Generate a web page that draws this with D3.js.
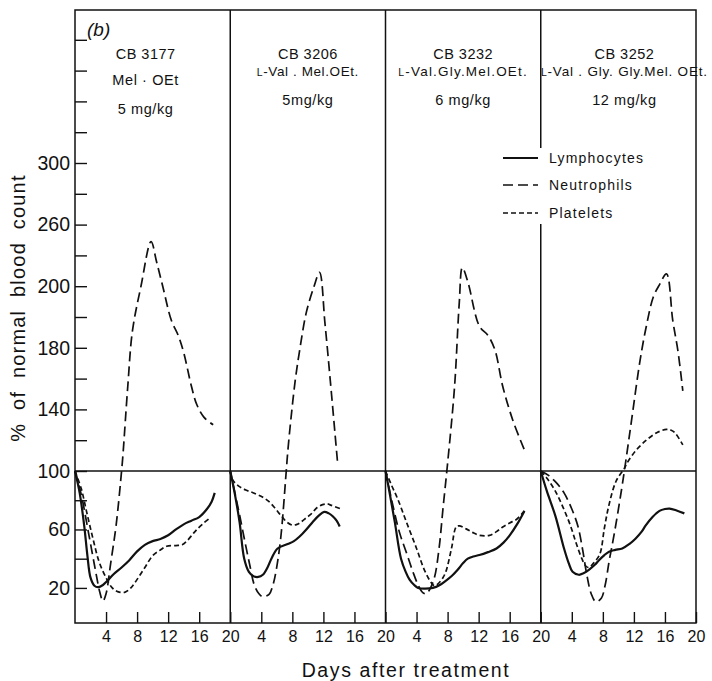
<!DOCTYPE html>
<html><head><meta charset="utf-8">
<script src="https://cdn.jsdelivr.net/npm/d3@7"></script>
<style>
body{margin:0;background:#fff}
svg{display:block}
text{font-family:"Liberation Sans",Arial,sans-serif;fill:#111}
</style>
</head><body><svg id="c" width="712" height="681"></svg>
<script>
// ---------------- data ----------------
const panelCodes = ["CB 3177", "CB 3206", "CB 3232", "CB 3252"];
const panelCompounds = ["Mel · OEt", "L-Val . Mel.OEt.", "L-Val.Gly.Mel.OEt.", "L-Val . Gly. Gly.Mel. OEt."];
const panelDoses = ["5 mg/kg", "5mg/kg", "6 mg/kg", "12 mg/kg"];
const seriesNames = ["Lymphocytes", "Neutrophils", "Platelets"];

const xTickValues = [4, 8, 12, 16, 20];
const yTickValues = d3.range(20, 400, 20);
const yLabelValues = [20, 60, 100, 140, 180, 220, 260, 300];
const yLabelTexts = ["20", "60", "100", "140", "180", "200", "260", "300"];

// [day, % of normal] for each panel
const lymphocytes = [
  [[0,100],[0.6,85],[1.2,62],[1.6,42],[2,27],[2.5,21.5],[3,20.5],[3.6,22],[4.2,25],[5,29.5],[6,34],[7,39],[8,45],[9,49.5],[10,52],[11,53.5],[12,56],[13,60],[14,63.5],[15,66],[16,68.5],[17,74],[17.6,79],[18,85]],
  [[0,100],[0.6,84],[1.2,65],[1.8,40],[2.4,31],[3,28],[3.6,27.5],[4.2,29],[4.8,34],[5.3,40],[6.1,47],[7.4,50],[8.2,52],[8.9,55],[9.8,60],[10.6,65],[11.4,69.5],[12.1,72],[12.7,71],[13.2,69],[13.7,66],[14.1,62]],
  [[0,100],[0.5,86],[1.2,65],[2,40],[2.6,31],[3.1,25.7],[3.7,22],[4.2,20],[5,19.5],[6.1,20],[7,22],[7.8,25],[8.6,28.5],[9.3,32.4],[10,37],[10.6,40],[11.3,41.5],[12.1,42.5],[13.2,44.5],[14.3,47],[15.2,51],[16,56],[17,64],[17.9,72.7]],
  [[0,100],[0.8,86],[1.9,69],[3,47],[3.6,37],[4.1,31],[4.9,29],[5.5,30],[6.2,32.4],[7,36],[7.5,39],[8.2,42.5],[8.8,44.8],[9.6,46],[10.5,47],[11.4,50],[12.2,53.7],[13,58.5],[13.5,62.6],[14.4,68.5],[15.3,72.7],[16,74],[16.6,74.3],[17.5,73],[18.5,71]]
];
const neutrophils = [
  [[0,100],[0.8,84],[1.8,56],[2.6,33],[3.2,17],[3.6,11],[4,16],[4.6,37],[5.3,63],[6,100],[6.2,112],[6.8,155],[7.4,191],[8.5,220],[9.8,249],[10.5,236],[11.3,220],[12.4,198],[13.3,188],[14,177],[15,155],[15.7,143],[16.6,135],[17.8,130]],
  [[0,100],[0.6,85],[1.2,70],[1.8,54],[2.5,36],[3.1,22],[3.7,16],[4.2,14],[5,15.6],[5.5,22],[5.9,31.5],[6.5,54],[7.2,99],[7.4,112],[7.8,133],[8.4,160],[8.9,177],[9.8,203],[10.8,220],[11.5,229],[12.2,196],[12.9,158],[13.5,124],[13.85,104]],
  [[0,100],[0.8,80],[1.8,58],[2.7,44],[3.5,31.5],[4.2,22],[4.8,16.8],[5.25,16],[5.7,19],[6.3,27],[6.9,47],[7.4,74],[8,105],[8.9,155],[9.5,209],[9.9,232],[10.6,223],[12.1,194],[13.2,188],[14.1,178.6],[15.1,155],[16.4,133],[17.9,113.6]],
  [[0,100],[1,97],[2,92],[3,85],[4,74],[4.8,62],[5.4,46],[5.9,30],[6.5,16],[7.1,10.5],[7.8,13],[8.3,22],[8.8,38],[9.5,58],[10.4,87],[11,108],[11.7,133],[12.8,172],[13.6,194],[14.5,213],[15.3,221],[16.2,228],[17,198],[17.7,177],[18.3,152]]
];
const platelets = [
  [[0,100],[0.8,88],[1.5,72],[2.3,54],[3.1,38],[4,27],[4.8,20],[5.5,17.5],[6.4,17],[7.2,20],[7.9,25],[9,34],[10,42],[11,46],[11.8,48.5],[13,49],[13.8,49.5],[14.4,52],[15.2,57],[15.7,60],[16.5,64],[17.4,68]],
  [[0,100],[0.3,94],[1,90],[2,87],[3,85],[4.2,82],[5,79],[5.7,75],[6.3,71],[6.7,68.5],[7.3,65],[8,63],[8.6,63.5],[9.1,65],[9.8,68],[10.4,70.5],[11.2,75],[11.9,77],[12.5,77.5],[12.8,77],[13.5,75.5],[14.3,74]],
  [[0,100],[0.8,90],[1.6,80.5],[2.7,65],[4,47],[5,32.4],[5.9,23.5],[6.3,21.5],[6.8,23],[7.4,27],[7.8,31.5],[8.5,47],[9.1,61.7],[9.5,62.5],[10.4,60.4],[11.2,58],[12.1,56],[13.4,56],[14.3,58.5],[15.1,61.7],[16,64.5],[16.9,67],[17.9,72.7]],
  [[0,100],[0.8,95],[1.8,87],[2.8,76],[3.8,63],[4.6,50],[5.3,40],[5.8,35],[6.2,34],[6.8,37],[7.6,43],[8.2,61],[8.8,77],[9.7,93],[10.8,102],[11.1,105],[12.2,113],[13.6,120],[15,125],[16.2,127],[16.8,126.5],[17.3,124.7],[18.3,117]]
];

// ---------------- layout ----------------
const svg = d3.select("#c");
const plotLeft = 75, plotRight = 696, plotTop = 10, plotBottom = 623;
const panelW = (plotRight - plotLeft) / 4;
const ink = "#111";

const y = d3.scaleLinear().domain([-4, 100, 300, 400]).range([plotBottom, 471, 163, 9]);
const xScales = d3.range(4).map(i => d3.scaleLinear().domain([0, 20])
  .range([plotLeft + i * panelW, plotLeft + (i + 1) * panelW]));

// frame
const g = svg.append("g");
g.append("rect").attr("x", plotLeft).attr("y", plotTop)
  .attr("width", plotRight - plotLeft).attr("height", plotBottom - plotTop)
  .attr("fill", "none").attr("stroke", ink).attr("stroke-width", 1.5);
// panel dividers
[1, 2].forEach(i => {
  const x = xScales[i].range()[0];
  g.append("line").attr("x1", x).attr("x2", x).attr("y1", plotTop).attr("y2", plotBottom)
    .attr("stroke", ink).attr("stroke-width", 1.5);
});
{
  const x = xScales[3].range()[0];
  [[plotTop, 148], [224, plotBottom]].forEach(([a, b]) =>
    g.append("line").attr("x1", x).attr("x2", x).attr("y1", a).attr("y2", b)
      .attr("stroke", ink).attr("stroke-width", 1.5));
}
// 100 % line
g.append("line").attr("x1", plotLeft).attr("x2", plotRight)
  .attr("y1", y(100)).attr("y2", y(100)).attr("stroke", ink).attr("stroke-width", 1.5);

// y axis
const labelMap = new Map(yLabelValues.map((v, i) => [v, yLabelTexts[i]]));
const yAxis = svg.append("g").attr("transform", `translate(${plotLeft},0)`)
  .call(d3.axisLeft(y).tickValues(yTickValues).tickSizeInner(-12).tickSizeOuter(0)
    .tickPadding(5).tickFormat(d => labelMap.get(d) || ""));
yAxis.select(".domain").remove();
yAxis.selectAll("line").attr("stroke", ink).attr("stroke-width", 1.4);
yAxis.selectAll("text").attr("font-size", 19.5).attr("fill", ink)
  .attr("font-family", "'Liberation Sans', Arial, sans-serif");

// x axes
xScales.forEach((xs, i) => {
  const ax = svg.append("g").attr("transform", `translate(0,${plotBottom})`)
    .call(d3.axisBottom(xs).tickValues(xTickValues).tickSizeInner(-11).tickSizeOuter(0)
      .tickPadding(8).tickFormat(d3.format("d")));
  ax.select(".domain").remove();
  ax.selectAll("line").attr("stroke", ink).attr("stroke-width", 1.4);
  ax.selectAll("text").attr("font-size", 16).attr("fill", ink)
    .attr("font-family", "'Liberation Sans', Arial, sans-serif");
});

// curves
const styles = [
  { data: lymphocytes, width: 2.2, dash: null },
  { data: neutrophils, width: 1.7, dash: "10,5" },
  { data: platelets, width: 1.7, dash: "5,3" }
];
xScales.forEach((xs, i) => {
  const line = d3.line().x(d => xs(d[0])).y(d => y(d[1])).curve(d3.curveCatmullRom.alpha(0.5));
  styles.forEach(s => {
    svg.append("path").datum(s.data[i]).attr("d", line)
      .attr("fill", "none").attr("stroke", ink).attr("stroke-width", s.width)
      .attr("stroke-dasharray", s.dash).attr("stroke-linejoin", "round");
  });
});

// panel titles
const titleDx = [-7, 0, 0, 6];
const rowY = [[59, 85, 114], [59, 76, 105], [59, 76, 105], [59, 76, 105]];
const rowSpacing = [[0.5, 0.6, 0.6], [0.5, 0.6, 0.6], [0.5, 1.2, 0.6], [0.5, 0.8, 0.6]];
xScales.forEach((xs, i) => {
  const cx = (xs.range()[0] + xs.range()[1]) / 2 + titleDx[i];
  [panelCodes[i], panelCompounds[i], panelDoses[i]].forEach((txt, r) => {
    const t = svg.append("text").attr("x", cx).attr("y", rowY[i][r])
      .attr("text-anchor", "middle").attr("font-size", r === 1 ? (i === 0 ? 14.5 : 13.5) : 14.5)
      .attr("letter-spacing", rowSpacing[i][r]);
    if (txt.startsWith("L-")) {
      t.append("tspan").attr("font-size", 10.5).text("L");
      t.append("tspan").text(txt.slice(1));
    } else t.text(txt);
  });
});

// (b)
svg.append("text").attr("x", 87).attr("y", 36).attr("font-size", 19)
  .attr("font-style", "italic").text("(b)");

// legend
const legX1 = 503, legX2 = 538, legTextX = 549, legY = [158, 185, 213];
seriesNames.forEach((name, i) => {
  svg.append("line").attr("x1", legX1).attr("x2", legX2).attr("y1", legY[i]).attr("y2", legY[i])
    .attr("stroke", ink).attr("stroke-width", styles[i].width).attr("stroke-dasharray", styles[i].dash);
  svg.append("text").attr("x", legTextX).attr("y", legY[i] + 5).attr("font-size", 14)
    .attr("letter-spacing", 1.2).text(name);
});

// axis titles
svg.append("text").attr("transform", "translate(25,308) rotate(-90)")
  .attr("text-anchor", "middle").attr("font-size", 20).attr("letter-spacing", 1.2)
  .attr("word-spacing", 6).text("% of normal blood count");
svg.append("text").attr("x", 406).attr("y", 677).attr("text-anchor", "middle")
  .attr("font-size", 19.5).attr("letter-spacing", 1.6).text("Days after treatment");
</script>
</body></html>
